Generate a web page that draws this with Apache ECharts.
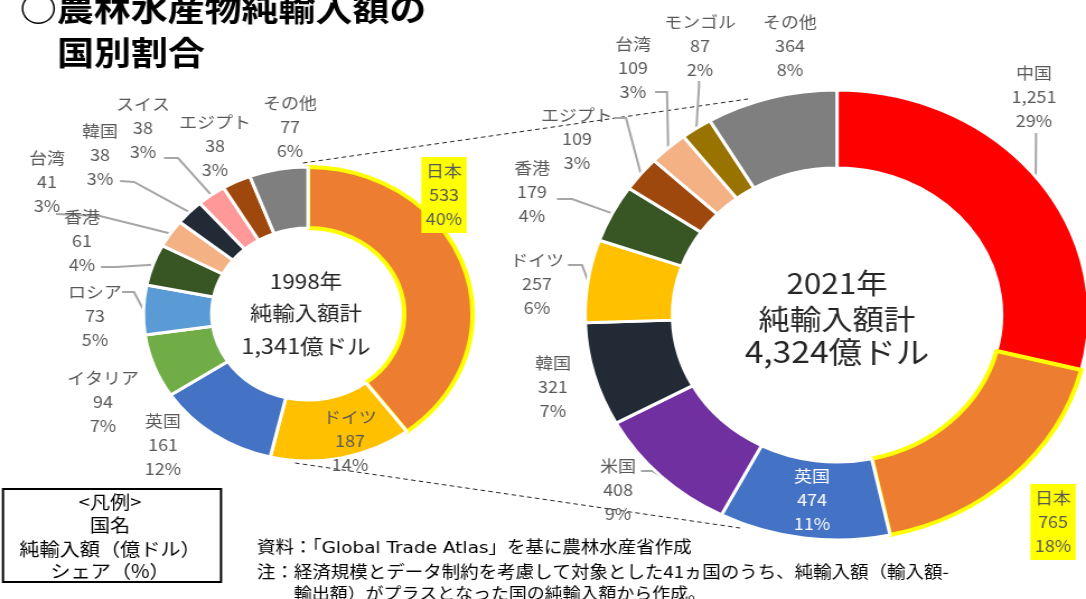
<!DOCTYPE html>
<html>
<head>
<meta charset="utf-8">
<title>農林水産物純輸入額の国別割合</title>
<script src="https://cdn.jsdelivr.net/npm/echarts@6/dist/echarts.min.js"></script>
<style>
html, body { margin: 0; padding: 0; background: #fff; overflow: hidden; }
/* the source picture is stretched sideways, so the chart is drawn narrower and scaled back */
#main { width: 970px; height: 599px; transform: scaleX(1.1196); transform-origin: 0 0; }
</style>
</head>
<body>
<div id="main"></div>
<script>
var SX = 1086 / 970;
var FONT = '"Noto Sans CJK JP", "Noto Sans", sans-serif';

// 1998
var names1998  = ['日本', 'ドイツ', '英国', 'イタリア', 'ロシア', '香港', '台湾', '韓国', 'スイス', 'エジプト', 'その他'];
var values1998 = [533, 187, 161, 94, 73, 61, 41, 38, 38, 38, 77];
var shares1998 = [40, 14, 12, 7, 5, 4, 3, 3, 3, 3, 6];

// 2021
var names2021  = ['中国', '日本', '英国', '米国', '韓国', 'ドイツ', '香港', 'エジプト', '台湾', 'モンゴル', 'その他'];
var values2021 = [1251, 765, 474, 408, 321, 257, 179, 109, 109, 87, 364];
var shares2021 = [29, 18, 11, 9, 7, 6, 4, 3, 3, 2, 8];

var colors = {
    '日本': '#ED7D31', 'ドイツ': '#FFC000', '英国': '#4472C4', 'イタリア': '#70AD47',
    'ロシア': '#5B9BD5', '香港': '#375623', '台湾': '#F4B183', '韓国': '#222A35',
    'スイス': '#FF9999', 'エジプト': '#9E480E', 'その他': '#7F7F7F', '中国': '#FF0000',
    '米国': '#7030A0', 'モンゴル': '#997300'
};

// label centres, in page pixels
var labelPos1998 = {
    '日本': [444, 195], 'ドイツ': [350, 441], '英国': [163, 445], 'イタリア': [103, 402],
    'ロシア': [95, 316], '香港': [82, 241], '台湾': [47, 182], '韓国': [100, 155],
    'スイス': [143, 128], 'エジプト': [215, 146], 'その他': [290, 127]
};
var labelPos2021 = {
    '中国': [1034, 97], '日本': [1053, 522], '英国': [812, 500], '米国': [618, 490],
    '韓国': [553, 387], 'ドイツ': [537, 284], '香港': [532, 192], 'エジプト': [577, 139],
    '台湾': [633, 68], 'モンゴル': [700, 46], 'その他': [790, 46]
};
// leader lines: [start at the label, elbow], page pixels; the end sits on the slice
var leader1998 = {
    'ロシア': [[122, 292], [134, 292]],
    '香港': [[101, 267], [116, 267]],
    '台湾': [[56, 214], [100, 216]],
    '韓国': [[120, 181], [134, 182]],
    'スイス': [[164, 158], [178, 158]]
};
var leader2021 = {
    '中国': [[1036, 133], [1036, 138]],
    '米国': [[641, 471], [652, 471]],
    'ドイツ': [[568, 265], [582, 265]],
    '香港': [[557, 199], [572, 199]],
    'エジプト': [[614, 118], [626, 118]],
    '台湾': [[655, 92], [667, 92]],
    'モンゴル': [[699, 81], [699, 86]]
};

function sum(a) { return a.reduce(function (s, v) { return s + v; }, 0); }

function buildPie(names, values, shares, centerPage, radius, pos, leader) {
    return {
        type: 'pie',
        center: [centerPage[0] / SX, centerPage[1]],
        radius: radius,
        startAngle: 90,
        clockwise: true,
        avoidLabelOverlap: false,
        animation: false,
        silent: true,
        itemStyle: { borderColor: '#fff', borderWidth: 3 },
        label: {
            show: true,
            position: 'outside',
            color: '#595959',
            fontFamily: FONT,
            fontSize: 16,
            lineHeight: 24,
            formatter: function (p) {
                return p.name + '\n' + echarts.format.addCommas(p.value) + '\n' + shares[p.dataIndex] + '%';
            }
        },
        labelLine: { show: true, length: 8, length2: 10, lineStyle: { color: '#A6A6A6', width: 2 } },
        labelLayout: function (p) {
            var n = names[p.dataIndex];
            var q = pos[n];
            var res = { x: q[0] / SX, y: q[1], align: 'center', verticalAlign: 'middle' };
            var s = leader[n];
            if (s && p.labelLinePoints) {
                res.labelLinePoints = [
                    p.labelLinePoints[0],
                    [s[1][0] / SX, s[1][1]],
                    [s[0][0] / SX, s[0][1]]
                ];
            }
            return res;
        },
        data: names.map(function (n, i) {
            var item = {
                name: n,
                value: values[i],
                itemStyle: { color: colors[n] },
                labelLine: { show: !!leader[n] }
            };
            if (n === '日本') {
                item.itemStyle.borderColor = '#FFFF00';
                item.itemStyle.borderWidth = 4;
                item.label = { backgroundColor: '#FFFF00', padding: [2, 4] };
            }
            return item;
        })
    };
}

var pie1998 = buildPie(names1998, values1998, shares1998, [308, 314], [86, 147], labelPos1998, leader1998);
var pie2021 = buildPie(names2021, values2021, shares2021, [837, 315], [147, 225], labelPos2021, leader2021);
pie2021.data[2].label = { color: '#fff' };

function txt(xPage, y, text, size, opt) {
    opt = opt || {};
    return {
        type: 'text',
        x: xPage / SX,
        y: y,
        silent: true,
        style: {
            text: text,
            fontFamily: opt.family || FONT,
            fontSize: size,
            fontWeight: opt.bold ? 'bold' : 'normal',
            fill: opt.color || '#262626',
            align: opt.align || 'center',
            verticalAlign: 'middle'
        }
    };
}

var myChart = echarts.init(document.getElementById('main'), null, { renderer: 'canvas' });
var option = {
    backgroundColor: '#fff',
    series: [pie1998, pie2021],
    graphic: [
        // linking lines between the two donuts
        { type: 'line', silent: true, shape: { x1: 303 / SX, y1: 163, x2: 748 / SX, y2: 99 },
          style: { stroke: '#262626', lineWidth: 1, lineDash: [4, 3] } },
        { type: 'line', silent: true, shape: { x1: 295 / SX, y1: 463, x2: 740 / SX, y2: 528 },
          style: { stroke: '#262626', lineWidth: 1, lineDash: [4, 3] } },

        // title
        txt(20, 8, '○農林水産物純輸入額の', 33, { bold: true, align: 'left', color: '#000' }),
        txt(57, 52, '国別割合', 33, { bold: true, align: 'left', color: '#000' }),

        // totals
        txt(306, 281, '1998年', 20),
        txt(306, 313, '純輸入額計', 20),
        txt(306, 346, echarts.format.addCommas(sum(values1998)) + '億ドル', 21),
        txt(837, 283, '2021年', 28),
        txt(837, 319, '純輸入額計', 28),
        txt(837, 352, echarts.format.addCommas(sum(values2021)) + '億ドル', 30),

        // key box
        { type: 'rect', silent: true, shape: { x: 3 / SX, y: 489, width: 218 / SX, height: 93 },
          style: { fill: '#fff', stroke: '#000', lineWidth: 2 } },
        txt(110, 502, '<凡例>', 18, { color: '#000' }),
        txt(110, 525, '国名', 18, { color: '#000' }),
        txt(110, 549, '純輸入額（億ドル）', 18, { color: '#000' }),
        txt(110, 571, 'シェア（%）', 18, { color: '#000' }),

        // notes
        txt(257, 549, '資料：「Global Trade Atlas」を基に農林水産省作成', 16.5,
            { align: 'left', color: '#000', family: '"DejaVu Sans", "Noto Sans CJK JP", sans-serif' }),
        txt(257, 572, '注：経済規模とデータ制約を考慮して対象とした41ヵ国のうち、純輸入額（輸入額-', 16.5, { align: 'left', color: '#000' }),
        txt(294, 593, '輸出額）がプラスとなった国の純輸入額から作成。', 16, { align: 'left', color: '#000' })
    ]
};
myChart.setOption(option);
</script>
</body>
</html>
